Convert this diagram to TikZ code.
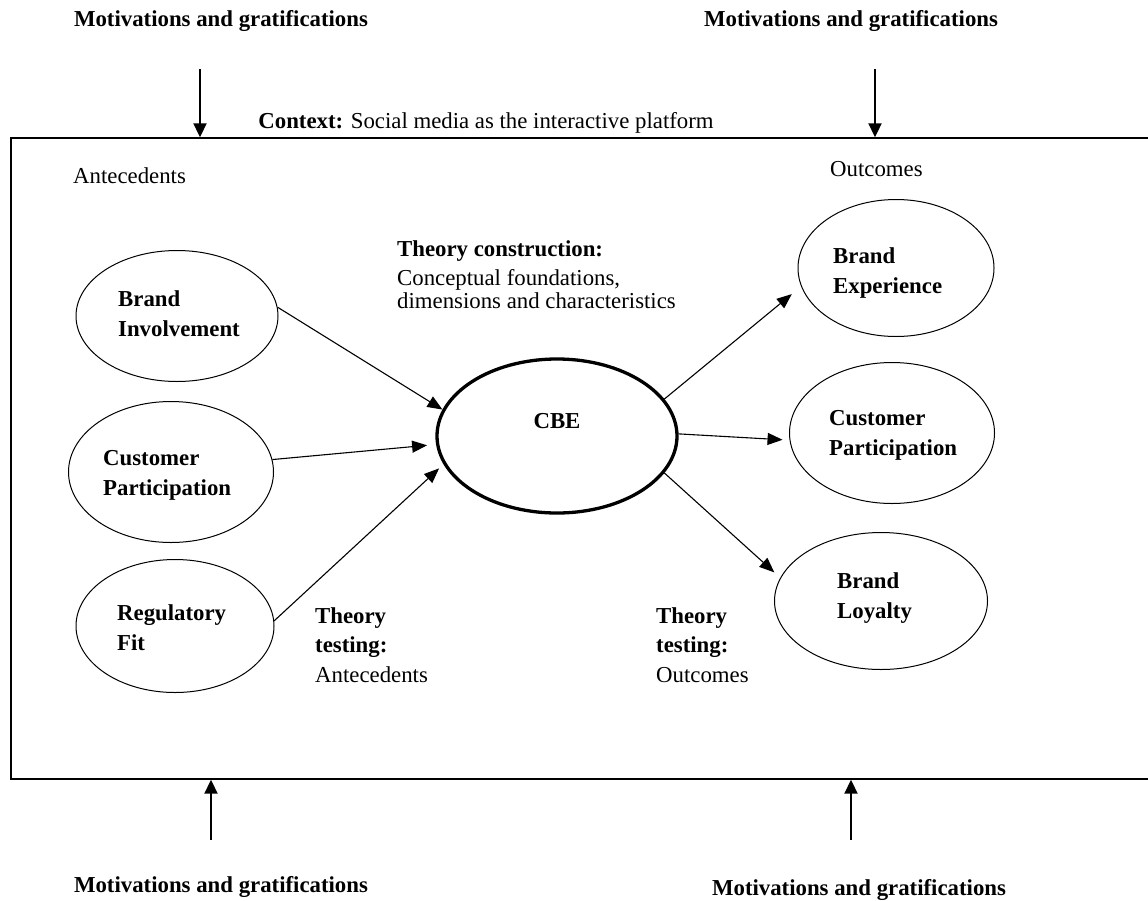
\documentclass[tikz,border=0pt]{standalone}
\usepackage{fontspec}
\setmainfont{Liberation Serif}
\usetikzlibrary{shapes.geometric,arrows.meta}
\begin{document}
\begin{tikzpicture}[x=1pt,y=-1pt,
  txt/.style={inner sep=0pt,font=\fontsize{22.8}{29.5}\selectfont},
  btxt/.style={txt,font=\fontsize{22.8}{29.5}\selectfont\bfseries},
  oval/.style={ellipse,draw,line width=1pt,inner sep=0pt},
  coreoval/.style={ellipse,draw,line width=3.3pt,inner sep=0pt},
  link/.style={line width=1.1pt,-{Triangle[length=15pt,width=12pt]}},
  push/.style={line width=2pt,-{Triangle[length=14pt,width=13pt]}}]
\useasboundingbox (0,0) rectangle (1148,900);
\clip (0,0) rectangle (1148,900);

% outer frame (continues past the right edge)
\node[draw,line width=1.4pt,minimum width=1146pt,minimum height=641pt,inner sep=0pt] (frame) at (584,458.5) {};

% influences from outside the frame
\node[btxt,anchor=base] (mgtl) at (221,26) {Motivations and gratifications};
\node[btxt,anchor=base] (mgtr) at (851,26) {Motivations and gratifications};
\node[btxt,anchor=base] (mgbl) at (221,892) {Motivations and gratifications};
\node[btxt,anchor=base] (mgbr) at (859,895) {Motivations and gratifications};
\coordinate (ptl) at (200,69);
\coordinate (ptr) at (875,69);
\coordinate (pbl) at (211,840);
\coordinate (pbr) at (851,840);
\draw[push] (ptl) -- (ptl |- frame.north);
\draw[push] (ptr) -- (ptr |- frame.north);
\draw[push] (pbl) -- (pbl |- frame.south);
\draw[push] (pbr) -- (pbr |- frame.south);

\node[txt,anchor=base] (context) at (486,128) {\textbf{Context:} Social media as the interactive platform};
\node[txt,anchor=base west] (antlab) at (73,183) {Antecedents};
\node[txt,anchor=base west] (outlab) at (830,176) {Outcomes};

% antecedents (multi-line labels are placed by their last baseline)
\node[oval,minimum width=202pt,minimum height=131pt] (bi) at (177,316) {};
\node[oval,minimum width=205pt,minimum height=141pt] (cpl) at (171,472) {};
\node[oval,minimum width=198pt,minimum height=133pt] (rf) at (175,626) {};
\node[btxt,anchor=base west,align=left] (bit) at (118,336) {Brand\\Involvement};
\node[btxt,anchor=base west,align=left] (cplt) at (103,495) {Customer\\Participation};
\node[btxt,anchor=base west,align=left] (rft) at (117,650) {Regulatory\\Fit};

% focal construct
\node[coreoval,minimum width=240pt,minimum height=154pt] (cbe) at (557,436) {};
\node[btxt,anchor=base] (cbet) at (557,428) {CBE};

% outcomes
\node[oval,minimum width=196pt,minimum height=137pt] (be) at (896,268) {};
\node[oval,minimum width=205pt,minimum height=141pt] (cpr) at (892,433) {};
\node[oval,minimum width=213pt,minimum height=137pt] (bl) at (881,601) {};
\node[btxt,anchor=base west,align=left] (bet) at (833,293) {Brand\\Experience};
\node[btxt,anchor=base west,align=left] (cprt) at (829,455) {Customer\\Participation};
\node[btxt,anchor=base west,align=left] (blt) at (837,618) {Brand\\Loyalty};

% annotations
\node[txt,anchor=base west] (tc1) at (397,256) {\textbf{Theory construction:}};
\node[txt,anchor=base west,align=left,font=\fontsize{22.8}{23}\selectfont] (tc2) at (397,308) {Conceptual foundations,\\dimensions and characteristics};
\node[txt,anchor=base west,align=left] (tta) at (315,682) {\textbf{Theory}\\\textbf{testing:}\\Antecedents};
\node[txt,anchor=base west,align=left] (tto) at (656,682) {\textbf{Theory}\\\textbf{testing:}\\Outcomes};

% paths into and out of CBE
\draw[link] (bi.5) -- (cbe.167);
\draw[link,shorten >=9pt] (cpl.7) -- (cbe.184);
\draw[link,shorten >=6pt] (rf.3) -- (cbe.194.5);
\draw[link,shorten >=12pt] (cbe.19.4) -- (be.191.7);
\draw[link,shorten >=7pt] (cbe.1) -- (cpr.184.7);
\draw[link,shorten >=8pt] (cbe.-19.5) -- (bl.167.5);
\end{tikzpicture}
\end{document}
